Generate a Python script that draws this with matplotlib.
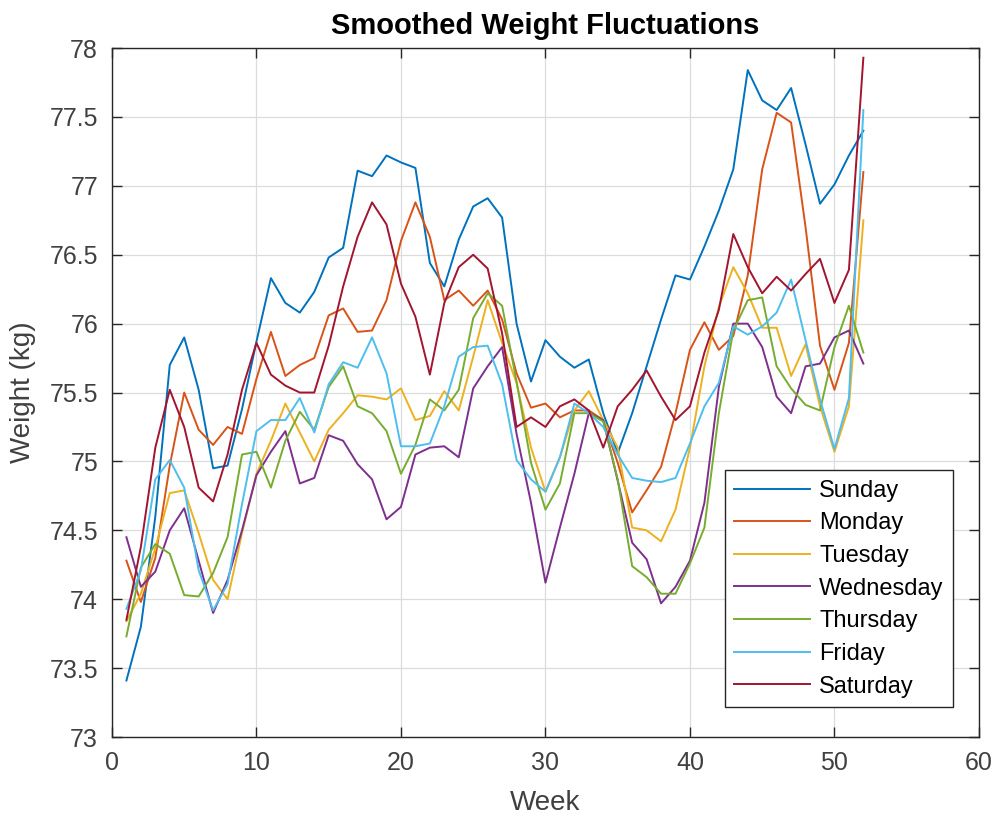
import numpy as np
import matplotlib.pyplot as plt

plt.rcParams['font.family'] = ['Liberation Sans', 'DejaVu Sans']

weeks = np.arange(1, 53)

sunday = [73.41, 73.8, 74.6, 75.7, 75.9, 75.52, 74.95, 74.97, 75.38, 75.87,
          76.33, 76.15, 76.08, 76.23, 76.48, 76.55, 77.11, 77.07, 77.22, 77.17,
          77.13, 76.44, 76.27, 76.61, 76.85, 76.91, 76.77, 76.0, 75.58, 75.88,
          75.76, 75.68, 75.74, 75.35, 75.06, 75.35, 75.69, 76.03, 76.35, 76.32,
          76.56, 76.82, 77.12, 77.84, 77.62, 77.55, 77.71, 77.3, 76.87, 77.01, 77.22, 77.4]
monday = [74.28, 73.98, 74.3, 74.97, 75.5, 75.23, 75.12, 75.25, 75.2, 75.6,
          75.94, 75.62, 75.7, 75.75, 76.06, 76.11, 75.94, 75.95, 76.17, 76.6,
          76.88, 76.63, 76.17, 76.24, 76.13, 76.24, 76.03, 75.64, 75.39, 75.42,
          75.32, 75.37, 75.37, 75.3, 74.99, 74.63, 74.79, 74.96, 75.35, 75.81,
          76.01, 75.81, 75.91, 76.35, 77.12, 77.53, 77.46, 76.7, 75.84, 75.52, 75.86, 77.1]
tuesday = [73.84, 74.04, 74.37, 74.77, 74.79, 74.48, 74.14, 74.0, 74.48, 74.91,
           75.15, 75.42, 75.21, 75.0, 75.23, 75.35, 75.48, 75.47, 75.45, 75.53,
           75.3, 75.33, 75.51, 75.37, 75.76, 76.17, 75.86, 75.57, 75.1, 74.78,
           75.03, 75.37, 75.51, 75.3, 75.1, 74.52, 74.5, 74.42, 74.65, 75.1,
           75.69, 76.12, 76.41, 76.22, 75.97, 75.97, 75.62, 75.85, 75.4, 75.07, 75.4, 76.75]
wednesday = [74.45, 74.09, 74.2, 74.5, 74.66, 74.28, 73.9, 74.14, 74.5, 74.9,
             75.07, 75.22, 74.84, 74.88, 75.19, 75.15, 74.98, 74.87, 74.58, 74.67,
             75.05, 75.1, 75.11, 75.03, 75.53, 75.69, 75.83, 75.2, 74.7, 74.12,
             74.52, 74.91, 75.35, 75.3, 74.86, 74.41, 74.29, 73.97, 74.09, 74.28,
             74.7, 75.54, 76.0, 76.0, 75.83, 75.47, 75.35, 75.69, 75.71, 75.9, 75.95, 75.71]
thursday = [73.73, 74.23, 74.4, 74.33, 74.03, 74.02, 74.19, 74.45, 75.05, 75.07,
            74.81, 75.15, 75.36, 75.23, 75.54, 75.69, 75.4, 75.35, 75.22, 74.91,
            75.12, 75.45, 75.37, 75.52, 76.04, 76.22, 76.13, 75.58, 74.99, 74.65,
            74.84, 75.35, 75.35, 75.29, 74.87, 74.24, 74.16, 74.04, 74.04, 74.26,
            74.52, 75.35, 75.95, 76.17, 76.19, 75.69, 75.53, 75.41, 75.37, 75.83, 76.13, 75.79]
friday = [73.93, 74.21, 74.87, 75.01, 74.81, 74.21, 73.92, 74.11, 74.69, 75.22,
          75.3, 75.3, 75.46, 75.21, 75.56, 75.72, 75.68, 75.9, 75.64, 75.11,
          75.11, 75.13, 75.4, 75.76, 75.83, 75.84, 75.56, 75.01, 74.87, 74.78,
          75.03, 75.42, 75.35, 75.25, 75.05, 74.88, 74.86, 74.85, 74.88, 75.13,
          75.4, 75.57, 75.98, 75.92, 75.98, 76.08, 76.32, 75.88, 75.45, 75.09, 75.46, 77.55]
saturday = [73.85, 74.38, 75.1, 75.52, 75.25, 74.81, 74.71, 75.05, 75.52, 75.86,
            75.63, 75.55, 75.5, 75.5, 75.84, 76.27, 76.63, 76.88, 76.72, 76.29,
            76.05, 75.63, 76.15, 76.41, 76.5, 76.4, 75.93, 75.25, 75.32, 75.25,
            75.4, 75.45, 75.37, 75.1, 75.4, 75.52, 75.66, 75.47, 75.3, 75.4,
            75.79, 76.1, 76.65, 76.41, 76.22, 76.34, 76.24, 76.36, 76.47, 76.15, 76.39, 77.93]

days = ['Sunday', 'Monday', 'Tuesday', 'Wednesday', 'Thursday', 'Friday', 'Saturday']
series = [sunday, monday, tuesday, wednesday, thursday, friday, saturday]
colors = ['#0072BD', '#D95319', '#EDB120', '#7E2F8E', '#77AC30', '#4DBEEE', '#A2142F']

fig = plt.figure(figsize=(9.97, 8.17), dpi=100)
ax = fig.add_axes([0.1123, 0.0979, 0.8696, 0.8433])

for day, vals, col in zip(days, series, colors):
    ax.plot(weeks, vals, color=col, lw=1.4, label=day)

ax.set_xlim(0, 60)
ax.set_ylim(73, 78)
ax.set_xticks(np.arange(0, 61, 10))
ax.set_yticks(np.arange(73, 78.01, 0.5))
ax.set_yticklabels(['73', '73.5', '74', '74.5', '75', '75.5', '76', '76.5', '77', '77.5', '78'])

ax.grid(True, color='#dcdcdc', lw=0.9)
ax.set_axisbelow(True)
for s in ax.spines.values():
    s.set_color('#262626')
    s.set_linewidth(1.0)
ax.tick_params(direction='in', top=True, right=True, length=7, width=1.0,
               colors='#262626', labelsize=18, pad=10)
for lab in ax.get_xticklabels() + ax.get_yticklabels():
    lab.set_color('#404040')

ax.set_xlabel('Week', fontsize=20, color='#404040', labelpad=11)
ax.set_ylabel('Weight (kg)', fontsize=20, color='#404040', labelpad=10)
ax.set_title('Smoothed Weight Fluctuations', fontsize=21, fontweight='bold', pad=10)

leg = ax.legend(loc='lower right', bbox_to_anchor=(0.970, 0.0435), borderaxespad=0,
                fontsize=17, fancybox=False, framealpha=1, edgecolor='#262626',
                handlelength=3.2, labelspacing=0.45, borderpad=0.4, handletextpad=0.4)
leg.get_frame().set_linewidth(1.0)

fig.savefig('out.png', dpi=100)
